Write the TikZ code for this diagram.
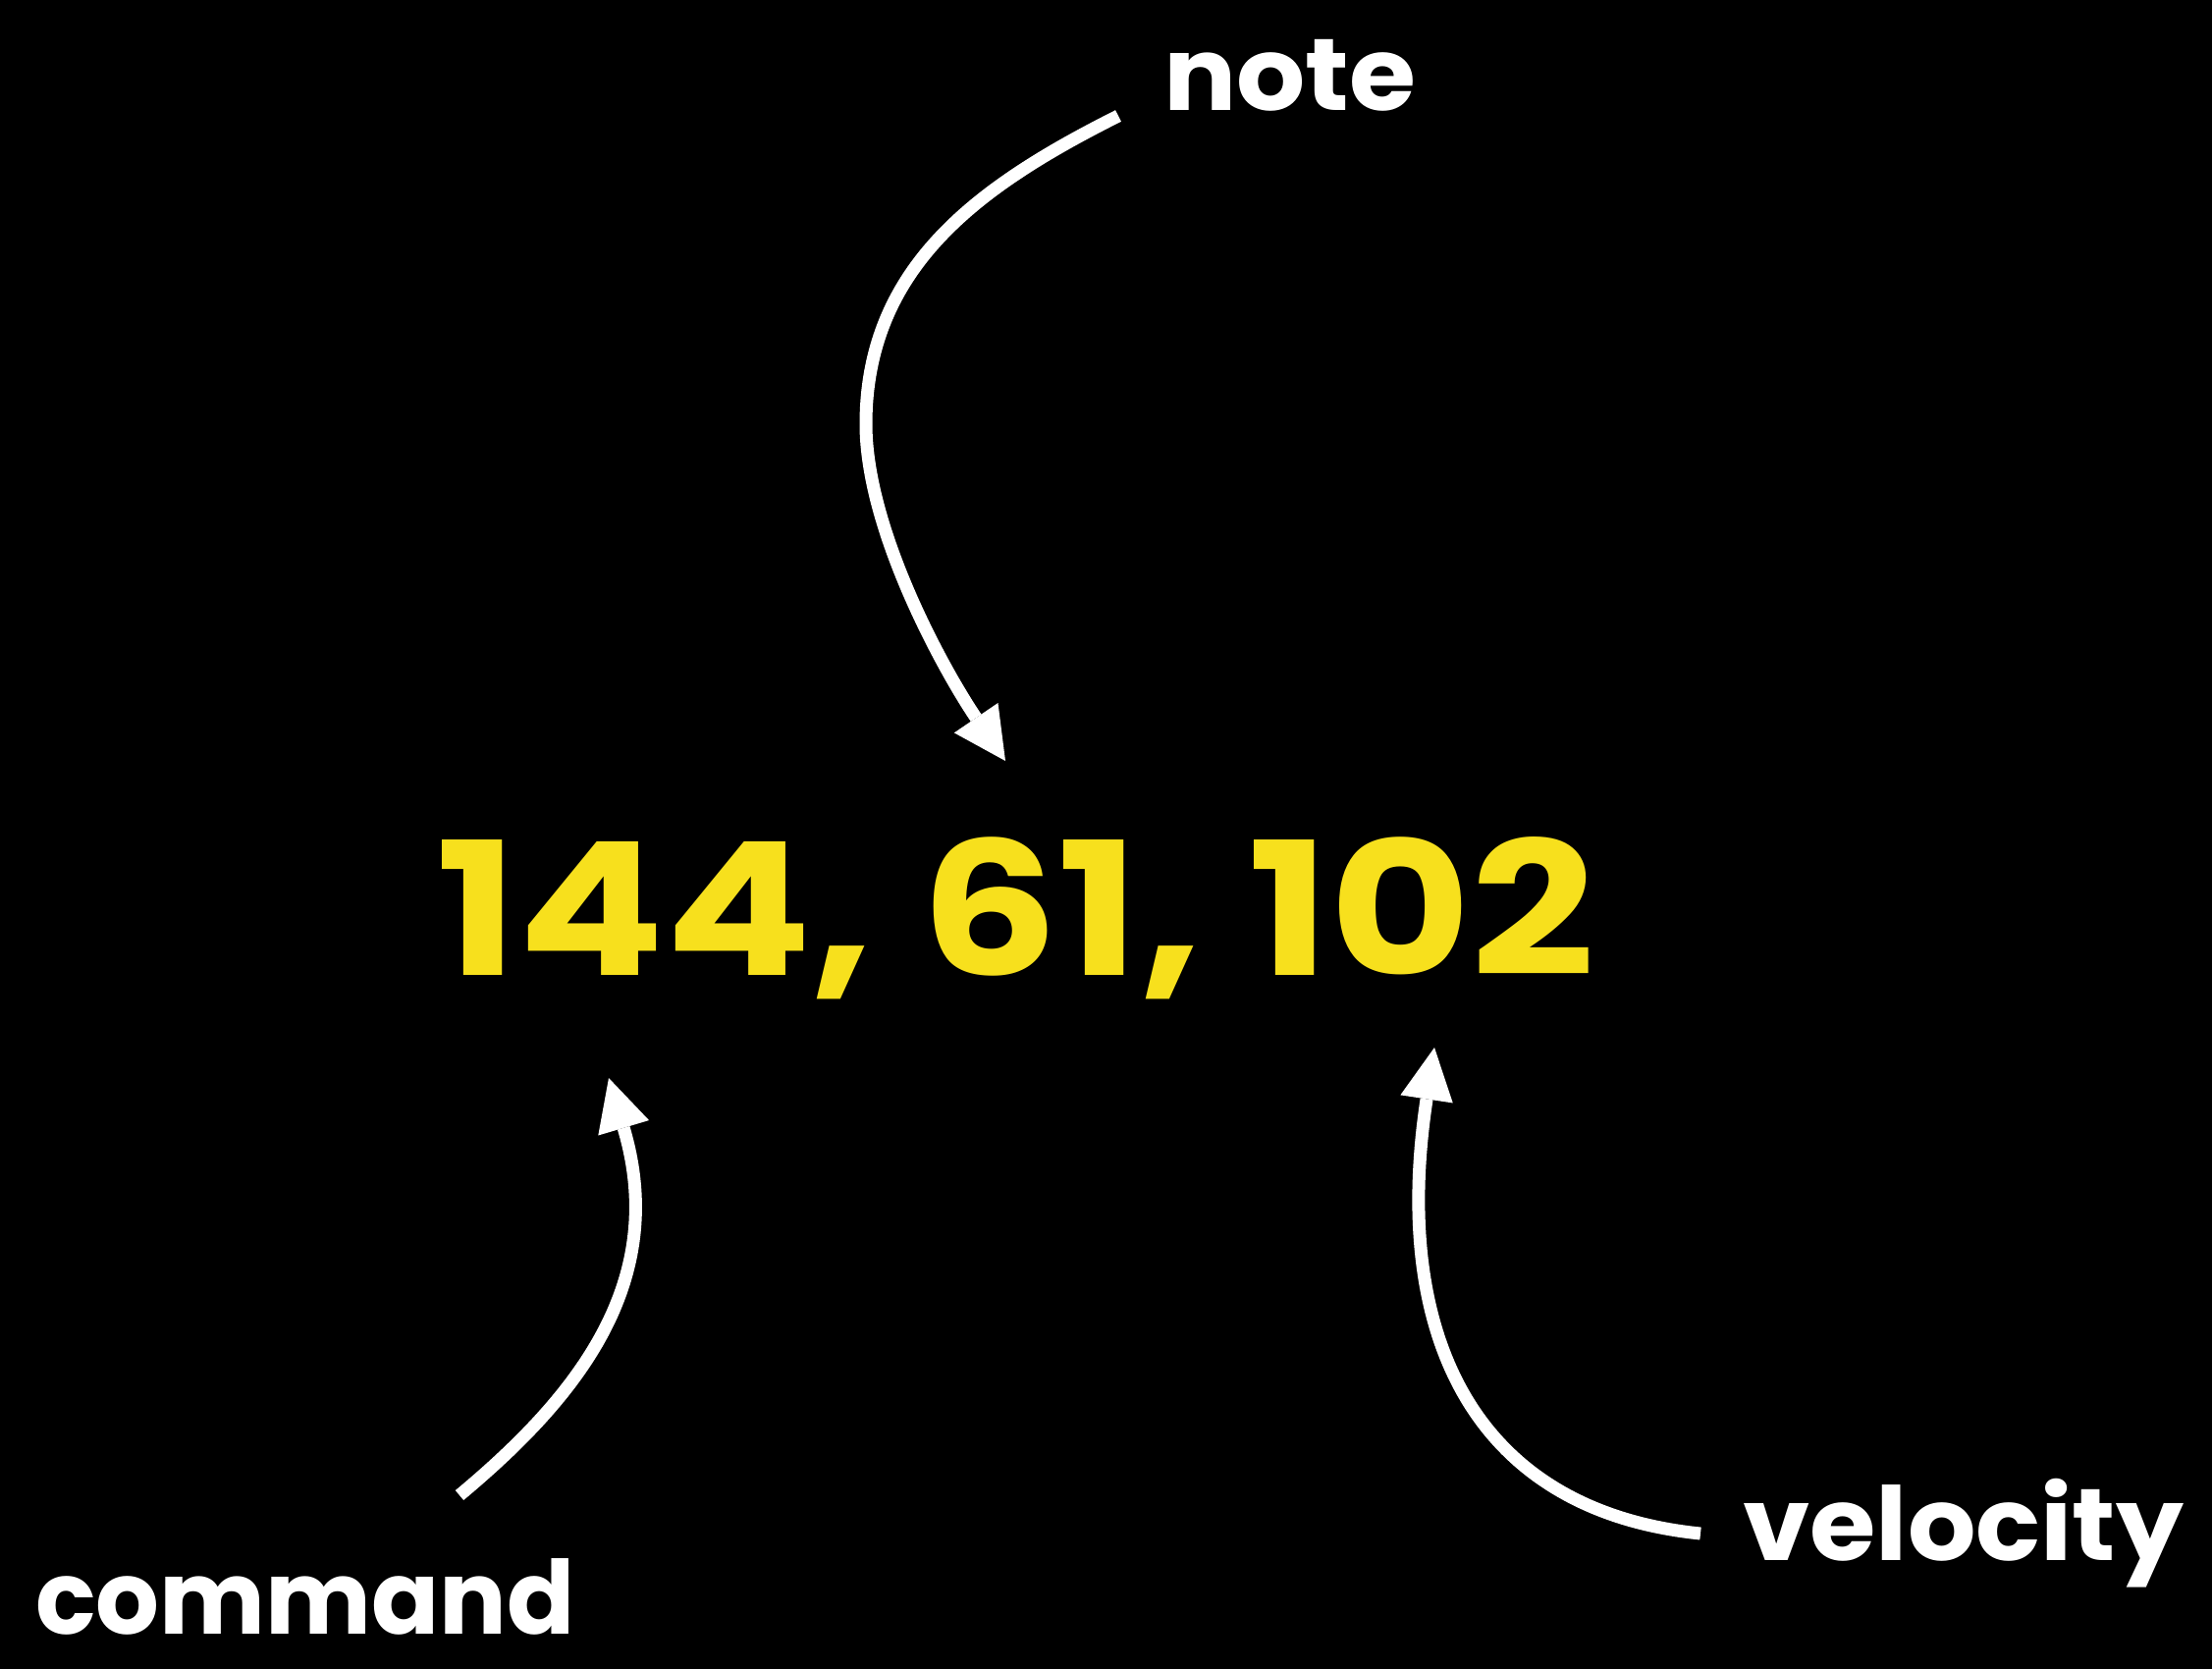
\documentclass[tikz,border=0pt]{standalone}
\usepackage{fontspec}
\usetikzlibrary{arrows.meta}
\newfontfamily\labelfont{Poppins}
\definecolor{midiyellow}{HTML}{F7E01D}
\tikzset{
  word/.style={text=white, font=\labelfont\bfseries\fontsize{104}{120}\selectfont, inner sep=0pt, anchor=base west},
  bytes/.style={text=midiyellow, font=\labelfont\bfseries\fontsize{189}{220}\selectfont, inner sep=0pt, anchor=base west},
  pointer/.style={draw=white, line width=13pt, -{Triangle[length=53pt, width=54pt, line width=0pt]}}
}
\begin{document}
\begin{tikzpicture}[x=1pt, y=-1pt]
  % canvas
  \fill[black] (0,0) rectangle (2253,1700);
  \useasboundingbox (0,0) rectangle (2253,1700);

  % labels and the message bytes (Poppins widened a little)
  \node[bytes] (msg) at (444,993) {\scalebox{1.17}[1]{144, 61, 102}};
  \node[word] (note) at (1185,112) {\scalebox{1.06}[1]{note}};
  \node[word] (command) at (36,1664) {\scalebox{0.98}[1]{command}};
  \node[word] (velocity) at (1775,1589) {\scalebox{1.05}[1]{velocity}};

  % connector ends
  \coordinate (noteFrom) at (1139,118);
  \coordinate (noteBend) at (882,432);
  \coordinate (noteTo) at (1024,775);
  \coordinate (cmdFrom) at (468,1523);
  \coordinate (cmdTo) at (620,1098);
  \coordinate (velFrom) at (1732,1562);
  \coordinate (velTo) at (1461,1067);

  % curved pointers
  \draw[pointer] (noteFrom) .. controls (1000,188) and (882,270) .. (noteBend)
                 .. controls (882,540) and (962,684) .. (noteTo);
  \draw[pointer] (cmdFrom) .. controls (583,1427) and (683,1309) .. (cmdTo);
  \draw[pointer] (velFrom) .. controls (1504,1539) and (1416,1364) .. (velTo);
\end{tikzpicture}
\end{document}
